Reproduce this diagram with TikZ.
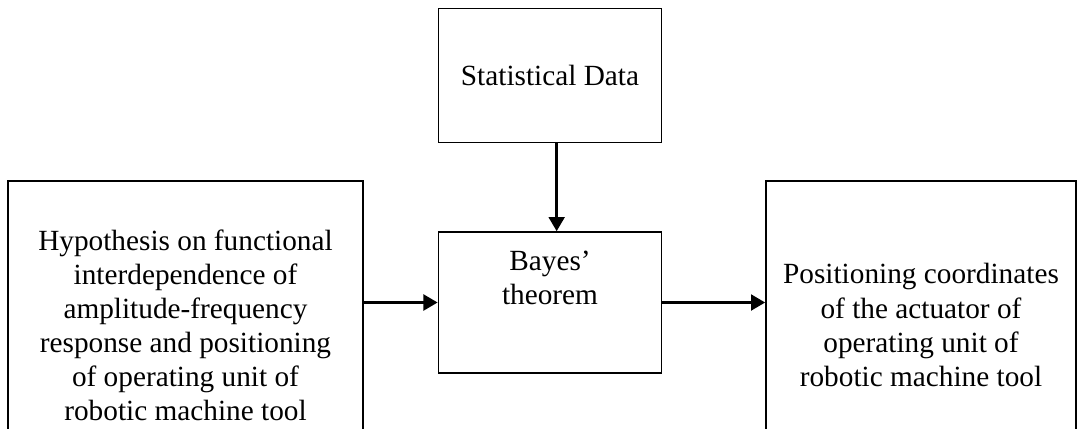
\documentclass[tikz,border=0pt]{standalone}
\usepackage{fontspec}
\setmainfont{Liberation Serif}
\usepackage{tikz}
\usetikzlibrary{arrows.meta,positioning}
\tikzset{
  block/.style={draw, line width=0.6pt, align=center, inner sep=2pt, font=\fontsize{12.3}{14.3}\selectfont},
  arrow/.style={-{Triangle[length=6pt,width=6.5pt]}, line width=1.5pt}
}

\begin{document}
\begin{tikzpicture}[x=0.42pt, y=-0.42pt]
  \useasboundingbox (0,0) rectangle (1083,428);
  \clip (0,0) rectangle (1083,428);
  \node[block, minimum width=93.7pt, minimum height=56.3pt] (data) at (550,75.5) {Statistical Data};
  \node[block, minimum width=93.7pt, minimum height=59.2pt, text depth=20.6pt] (bayes) at (550,302.5) {Bayes’\\theorem};
  \node[block, minimum width=149.1pt, minimum height=121pt] (hyp) at (185.5,325)
    {Hypothesis on functional\\interdependence of\\amplitude-frequency\\response and positioning\\of operating unit of\\robotic machine tool};
  \node[block, minimum width=130.2pt, minimum height=121pt] (pos) at (921,325)
    {Positioning coordinates\\of the actuator of\\operating unit of\\robotic machine tool};
  \draw[arrow] ([xshift=2.8pt]data.south) -- ([xshift=2.8pt]bayes.north);
  \draw[arrow] (hyp.east |- bayes.west) -- (bayes.west);
  \draw[arrow] (bayes.east) -- (pos.west |- bayes.east);
\end{tikzpicture}
\end{document}
